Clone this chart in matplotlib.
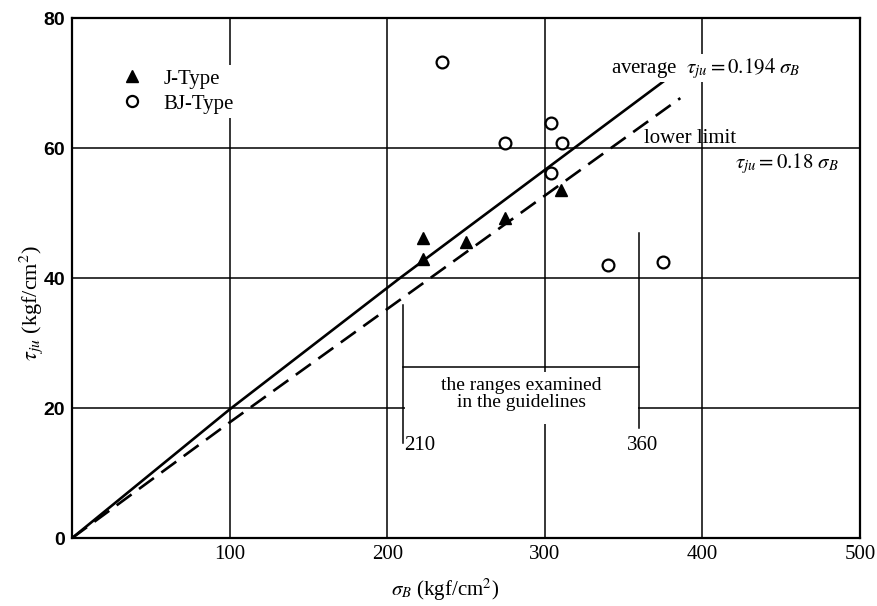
import matplotlib
matplotlib.use('Agg')
import matplotlib.pyplot as plt
import matplotlib.patches as mpatches
import matplotlib.lines as mlines

plt.rcParams['font.family'] = 'Liberation Serif'
plt.rcParams['mathtext.fontset'] = 'stix'

# values
j_x = [223, 223, 250, 275, 310]
j_y = [46.2, 42.9, 45.5, 49.2, 53.5]
bj_x = [235, 275, 304, 311, 304, 340, 375]
bj_y = [73.2, 60.8, 63.8, 60.8, 56.2, 42.0, 42.5]
avg_x = [0, 100, 208, 381]
avg_y = [0, 19.8, 40, 71.3]
low_x = [0, 100, 386]
low_y = [0, 17.8, 67.7]
x_ticks = [100, 200, 300, 400, 500]
y_ticks = [0, 20, 40, 60, 80]
range_lo, range_hi = 210, 360

fig = plt.figure(figsize=(8.78, 6.06), dpi=100)
ax = fig.add_axes([0.082, 0.112, 0.8975, 0.858])
ax.set_xlim(0, 500)
ax.set_ylim(0, 80)
ax.set_xticks(x_ticks)
ax.set_yticks(y_ticks)
ax.set_xticklabels([str(v) for v in x_ticks], fontsize=15)
ax.set_yticklabels([str(v) for v in y_ticks], fontsize=14,
                   family='Liberation Sans', weight='bold')
ax.tick_params(length=0, pad=5)
ax.set_axisbelow(True)
ax.grid(True, color='k', lw=1.1)
for s in ax.spines.values():
    s.set_linewidth(1.6)

# lines
ax.plot(avg_x, avg_y, color='k', lw=1.9, zorder=3)
ax.plot(low_x, low_y, color='k', lw=1.9, dashes=(7, 3.5), zorder=3)

# data points
ax.plot(j_x, j_y, ls='none', marker='^', ms=8.5, color='k', zorder=4)
ax.plot(bj_x, bj_y, ls='none', marker='o', ms=8.5, mfc='white', mec='k',
        mew=1.6, zorder=4)

# range bracket
ax.add_patch(mpatches.Rectangle((range_lo + 1, 17.6), range_hi - range_lo - 2, 8.0,
                                fc='white', ec='none', zorder=1))
ax.plot([range_lo, range_lo], [14.6, 35.8], color='k', lw=1.1, zorder=2)
ax.plot([range_hi, range_hi], [17, 47], color='k', lw=1.1, zorder=2)
ax.plot([range_lo, range_hi], [26.3, 26.3], color='k', lw=1.1, zorder=2)
ax.text((range_lo + range_hi) / 2, 22.2, 'the ranges examined\nin the guidelines',
        ha='center', va='center', fontsize=14, linespacing=1.0)
ax.text(range_lo + 1, 14.3, str(range_lo), ha='left', va='center', fontsize=15)
ax.text(range_hi + 2, 14.3, str(range_hi), ha='center', va='center', fontsize=15)

# annotations
ax.text(342, 72.3, r'average  $\tau_{ju}=0.194\ \sigma_B$', fontsize=15,
        ha='left', va='center',
        bbox=dict(fc='white', ec='none', pad=1))
ax.text(363, 61.5, 'lower limit', fontsize=15, ha='left', va='center')
ax.text(421, 57.7, r'$\tau_{ju}=0.18\ \sigma_B$', fontsize=15, ha='left',
        va='center', bbox=dict(fc='white', ec='none', pad=1))

# legend
h1 = mlines.Line2D([], [], ls='none', marker='^', ms=8, color='k')
h2 = mlines.Line2D([], [], ls='none', marker='o', ms=8, mfc='white', mec='k', mew=1.6)
ax.legend([h1, h2], ['J-Type', 'BJ-Type'], loc='upper left',
          bbox_to_anchor=(0.045, 0.93), fontsize=15, frameon=True,
          facecolor='white', edgecolor='none', framealpha=1, fancybox=False,
          handlelength=1.0, handletextpad=1.0, labelspacing=0.25,
          borderpad=0.2)

fig.text(0.507, 0.027, r'$\sigma_B$ (kgf/cm$^2$)', ha='center', va='center', fontsize=15)
fig.text(0.036, 0.50, r'$\tau_{ju}$ (kgf/cm$^2$)', ha='center', va='center',
         fontsize=16, rotation=90)

plt.savefig('out.png', dpi=100)
